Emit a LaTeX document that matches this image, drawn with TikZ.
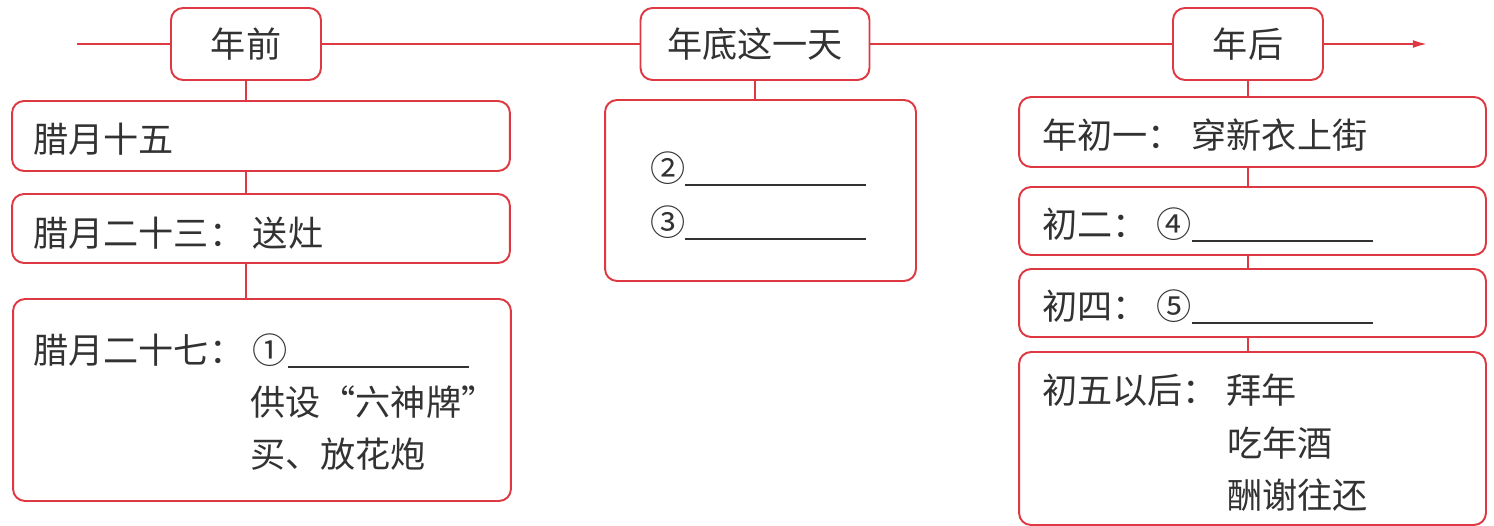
\documentclass[tikz,border=0pt]{standalone}
\usepackage{fontspec}
\setmainfont{Noto Sans CJK SC}
\usepackage{xcolor}
\usepackage{tikz}
\usetikzlibrary{arrows.meta,positioning,calc}

\definecolor{linered}{RGB}{222,56,66}
\definecolor{inkgray}{RGB}{50,50,50}
\newcommand{\blankline}{\rule[-2pt]{3.62cm}{0.7pt}}
\newcommand{\cnsep}{：\hspace{0.25em}}

\begin{document}
\begin{tikzpicture}[
    x=0.02cm, y=-0.02cm,
    stagebox/.style={rectangle, rounded corners=0.24cm, draw=linered, line width=1.1pt, minimum height=1.44cm, font=\fontsize{20}{24}\selectfont, text=inkgray},
    itembox/.style={rectangle, rounded corners=0.24cm, draw=linered, line width=1.1pt},
    itemtext/.style={anchor=base west, inner sep=0pt, font=\fontsize{20}{24}\selectfont, text=inkgray},
    link/.style={draw=linered, line width=1.1pt},
    arrow/.style={link, -{Latex[length=8pt,width=4.5pt]}}
]
\useasboundingbox (0,0) rectangle (1494,526);

% timeline stages
\node[stagebox, minimum width=3cm] (qian) at (246,44) {年前};
\node[stagebox, minimum width=4.58cm] (di) at (755,44) {年底这一天};
\node[stagebox, minimum width=3cm] (hou) at (1248,44) {年后};
\coordinate (start) at (77,44);
\coordinate (end) at (1427,44);

\draw[link] (start) -- (qian);
\draw[link] (qian) -- (di);
\draw[link] (di) -- (hou);
\draw[arrow] (hou) -- (end);

% before new year
\node[itembox, minimum width=9.96cm, minimum height=1.4cm] (l1) at (261,136) {};
\node[itembox, minimum width=9.96cm, minimum height=1.38cm] (l2) at (261,228.5) {};
\node[itembox, minimum width=9.96cm, minimum height=4.04cm] (l3) at (262,400) {};
\node[itemtext] (l1t) at (33,153) {腊月十五};
\node[itemtext] (l2t) at (33,247) {腊月二十三\cnsep 送灶};
\node[itemtext] (l3a) at (33,364) {腊月二十七\cnsep ①\blankline};
\node[itemtext] (l3b) at (250,416) {供设“六神牌”};
\node[itemtext] (l3c) at (250,468) {买、放花炮};

\draw[link] (qian.south) -- (qian.south |- l1.north);
\draw[link] (qian.south |- l1.south) -- (qian.south |- l2.north);
\draw[link] (qian.south |- l2.south) -- (qian.south |- l3.north);

% last day of the year
\node[itembox, minimum width=6.22cm, minimum height=3.62cm] (m1) at (760.5,190.5) {};
\node[itemtext] (m1a) at (650,182) {②\blankline};
\node[itemtext] (m1b) at (650,236) {③\blankline};

\draw[link] (di.south) -- (di.south |- m1.north);

% after new year
\node[itembox, minimum width=9.34cm, minimum height=1.4cm] (r1) at (1252.5,132) {};
\node[itembox, minimum width=9.34cm, minimum height=1.36cm] (r2) at (1252.5,221) {};
\node[itembox, minimum width=9.34cm, minimum height=1.36cm] (r3) at (1252.5,303) {};
\node[itembox, minimum width=9.34cm, minimum height=3.46cm] (r4) at (1252.5,438.5) {};
\node[itemtext] (r1t) at (1042,149) {年初一\cnsep 穿新衣上街};
\node[itemtext] (r2t) at (1042,238) {初二\cnsep ④\blankline};
\node[itemtext] (r3t) at (1042,320) {初四\cnsep ⑤\blankline};
\node[itemtext] (r4a) at (1042,404) {初五以后\cnsep 拜年};
\node[itemtext] (r4b) at (1227,457) {吃年酒};
\node[itemtext] (r4c) at (1227,509) {酬谢往还};

\draw[link] (hou.south) -- (hou.south |- r1.north);
\draw[link] (hou.south |- r1.south) -- (hou.south |- r2.north);
\draw[link] (hou.south |- r2.south) -- (hou.south |- r3.north);
\draw[link] (hou.south |- r3.south) -- (hou.south |- r4.north);

\end{tikzpicture}
\end{document}
